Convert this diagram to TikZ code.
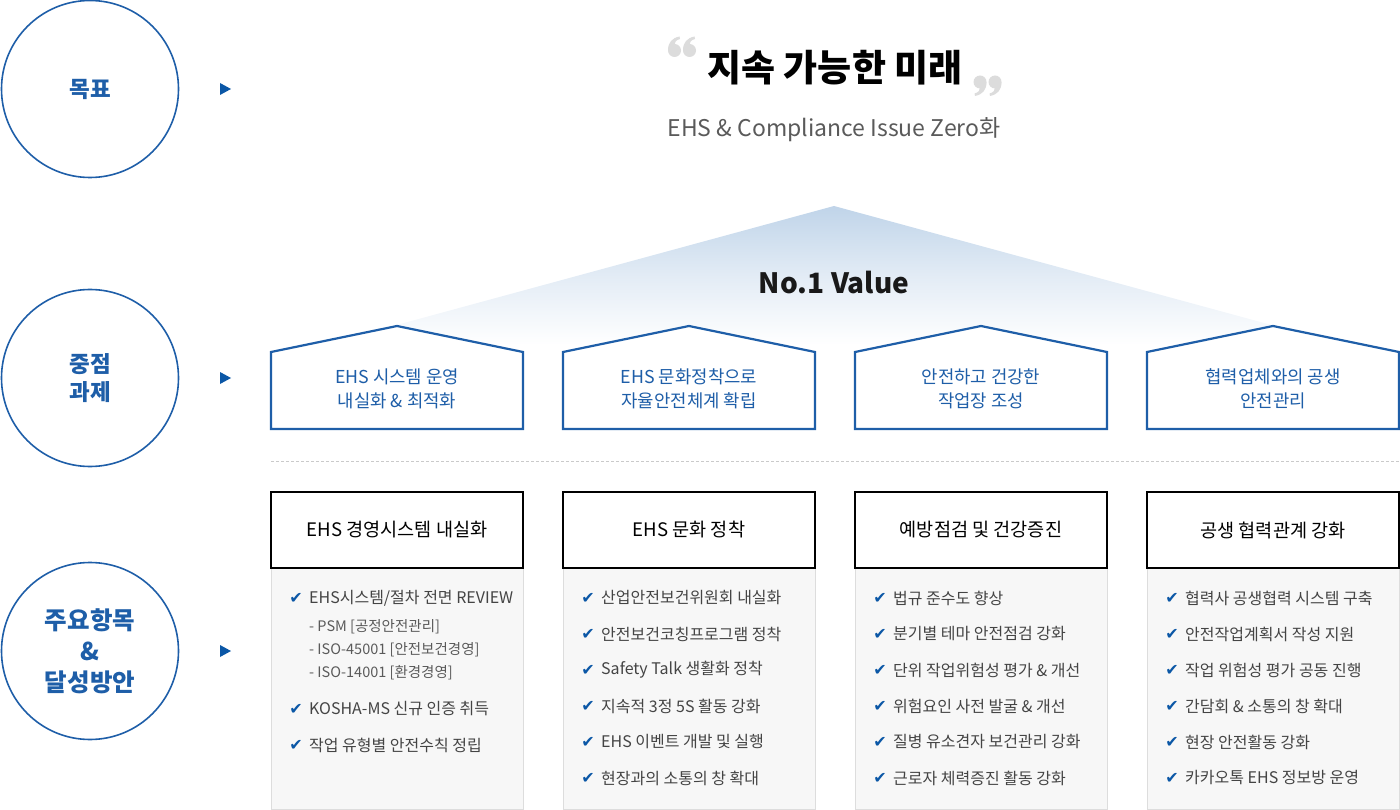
\documentclass[tikz,border=0pt]{standalone}
\usepackage{fontspec}
\setmainfont{Noto Sans CJK KR}
\newfontfamily\symfont{DejaVu Sans}
\definecolor{cblue}{HTML}{1E5EA8}
\definecolor{chk}{HTML}{0B57A6}
\definecolor{txt}{HTML}{444444}
\definecolor{sub}{HTML}{5A5A5A}
\definecolor{tri}{HTML}{C0D4E9}
\definecolor{panel}{HTML}{F7F7F7}
\definecolor{pline}{HTML}{DDDDDD}
\definecolor{quot}{HTML}{DCDCDC}
\tikzset{
  circ/.style={circle,draw=cblue,line width=1.6pt,minimum size=177pt,inner sep=0pt,text=cblue,font=\fontsize{22.5}{28}\selectfont\bfseries,align=center},
  tip/.style={fill=chk,draw=none},
  house/.style={draw=cblue,line width=2.2pt,fill=white},
  htext/.style={text=cblue,font=\fontsize{17.8}{24}\selectfont,align=center},
  hdr/.style={draw=black,line width=2pt,fill=white,minimum width=252pt,minimum height=76pt,inner sep=0pt,font=\fontsize{18.6}{20}\selectfont,text=black},
  pan/.style={draw=pline,line width=0.8pt,fill=panel},
  item/.style={anchor=west,inner sep=0pt,text=txt,font=\fontsize{16}{18}\selectfont},
  subitem/.style={anchor=west,inner sep=0pt,text=sub,font=\fontsize{14.5}{16}\selectfont},
  ck/.style={anchor=center,inner sep=0pt,text=chk,font=\symfont\fontsize{16}{16}\selectfont},
  qmark/.pic={
    \fill[quot] (0,0) circle (6.5);
    \fill[quot] (-6.5,0) .. controls (-6.6,-8) and (-2.5,-12.5) .. (5,-14)
      -- (5.5,-11.5) .. controls (1.5,-10.5) and (-0.5,-8) .. (0,-5) -- cycle;
  },
}
\newcommand{\chkitem}[4]{% name, x, y, text
  \node[ck] (#1c) at (#2,#3) {✔};
  \node[item] (#1) at ([xshift=13pt]#2,#3) {#4};
}
\begin{document}
\begin{tikzpicture}[x=1pt,y=-1pt]
\useasboundingbox (0,0) rectangle (1400,810);

% left circles
\node[circ] (goal) at (90,89) {목표};
\node[circ] (task) at (90,378) {중점\\과제};
\node[circ,font=\fontsize{24.5}{31}\selectfont\bfseries] (plan) at (90,651) {주요항목\\\&\\달성방안};
\foreach \yy/\nm in {89/ag,378/at,651/ap}{
  \fill[tip] (220,\yy-6) -- (231,\yy) -- (220,\yy+6) -- cycle;
}

% title
\node[inner sep=0pt,font=\fontsize{37}{40}\selectfont\bfseries,text=black] (title) at (835,68) {지속 가능한 미래};
\pic at (674.5,50.5) {qmark};
\pic at (689.5,50.5) {qmark};
\pic[rotate=180] at (980,82) {qmark};
\pic[rotate=180] at (995,82) {qmark};
\node[inner sep=0pt,font=\fontsize{23}{26}\selectfont,text=sub] (subtitle) at (834,130) {EHS \& Compliance Issue Zero화};

% gradient triangle
\shade[top color=tri,bottom color=white,middle color=tri!45!white] (834,206) -- (1345,345) -- (323,345) -- cycle;
\node[inner sep=0pt,font=\fontsize{28}{30}\selectfont\bfseries,text=black!90] (value) at (834,283) {No.1 Value};

% houses
\foreach \L/\nm/\ta/\tb in {271/h1/EHS 시스템 운영/내실화 \& 최적화,563/h2/EHS 문화정착으로/자율안전체계 확립,855/h3/안전하고 건강한/작업장 조성,1147/h4/협력업체와의 공생/안전관리}{
  \draw[house] (\L,352) -- (\L+126,326) -- (\L+252,352) -- (\L+252,429) -- (\L,429) -- cycle;
  \node[htext] (\nm) at (\L+126,389) {\ta\\\tb};
}

% dashed separator
\coordinate (dl) at (271,461);
\coordinate (dr) at (1399,461);
\draw[pline!80!gray,line width=0.8pt,dash pattern=on 3pt off 2pt] (dl) -- (dr);

% panels and headers
\foreach \L/\nm/\tt in {271/b1/EHS 경영시스템 내실화,563/b2/EHS 문화 정착,855/b3/예방점검 및 건강증진,1147/b4/공생 협력관계 강화}{
  \draw[pan] (\L,568) rectangle (\L+252,809);
  \node[hdr] (\nm) at (\L+126,530) {\tt};
}

% column 1
\chkitem{a1}{296}{598}{EHS시스템/절차 전면 REVIEW}
\node[subitem] (a1s1) at (309,627) {- PSM [공정안전관리]};
\node[subitem] (a1s2) at (309,650) {- ISO-45001 [안전보건경영]};
\node[subitem] (a1s3) at (309,673) {- ISO-14001 [환경경영]};
\chkitem{a2}{296}{709}{KOSHA-MS 신규 인증 취득}
\chkitem{a3}{296}{745}{작업 유형별 안전수칙 정립}

% column 2
\chkitem{b1i}{588}{598}{산업안전보건위원회 내실화}
\chkitem{b2i}{588}{634}{안전보건코칭프로그램 정착}
\chkitem{b3i}{588}{670}{Safety Talk 생활화 정착}
\chkitem{b4i}{588}{706}{지속적 3정 5S 활동 강화}
\chkitem{b5i}{588}{742}{EHS 이벤트 개발 및 실행}
\chkitem{b6i}{588}{778}{현장과의 소통의 창 확대}

% column 3
\chkitem{c1i}{880}{598}{법규 준수도 향상}
\chkitem{c2i}{880}{634}{분기별 테마 안전점검 강화}
\chkitem{c3i}{880}{670}{단위 작업위험성 평가 \& 개선}
\chkitem{c4i}{880}{706}{위험요인 사전 발굴 \& 개선}
\chkitem{c5i}{880}{742}{질병 유소견자 보건관리 강화}
\chkitem{c6i}{880}{778}{근로자 체력증진 활동 강화}

% column 4
\chkitem{d1i}{1172}{598}{협력사 공생협력 시스템 구축}
\chkitem{d2i}{1172}{634}{안전작업계획서 작성 지원}
\chkitem{d3i}{1172}{670}{작업 위험성 평가 공동 진행}
\chkitem{d4i}{1172}{706}{간담회 \& 소통의 창 확대}
\chkitem{d5i}{1172}{742}{현장 안전활동 강화}
\chkitem{d6i}{1172}{778}{카카오톡 EHS 정보방 운영}
\end{tikzpicture}
\end{document}
